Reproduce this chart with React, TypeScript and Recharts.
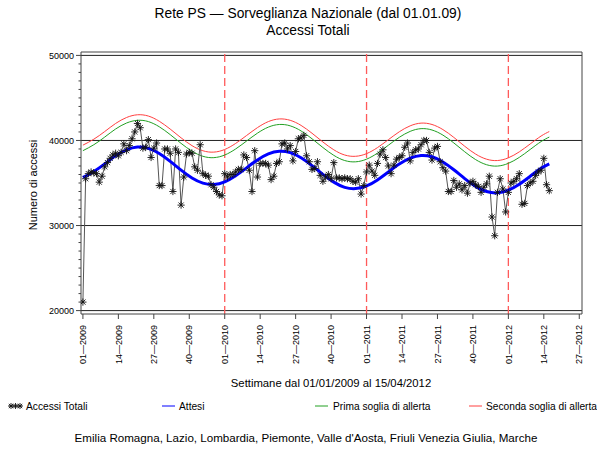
import React from 'react';
import { ComposedChart, Line, XAxis, YAxis, ReferenceLine } from 'recharts';

// weekly totals, week index 0 = 01-2009
const totalAccess = [
  21000, 35500, 36100, 36300, 36200, 36100, 35100, 35800, 36900, 37400,
  37900, 38300, 38500, 38200, 38600, 39600, 38800, 39400, 40200, 41000,
  42000, 41500, 39100, 39200, 40100, 38000, 39100, 39700, 34700, 34700,
  39000, 39000, 38500, 34000, 39000, 38600, 32400, 35700, 38400, 38600,
  38500, 36900, 36500, 39500, 36100, 35900, 35800, 34800, 34500, 34000,
  33600, 33500, 36100, 35700, 36000, 36000, 36300, 36600, 36600, 38300,
  38000, 36500, 34000, 38800, 35700, 37300, 37300, 37300, 37100, 35400,
  35800, 37300, 37500, 39600, 39700, 39000, 39400, 37600, 38700, 40200,
  40300, 40600, 38200, 37500, 36600, 36700, 37500, 35900, 35200, 35700,
  36000, 35500, 37400, 35600, 35600, 35500, 35600, 35500, 35500, 35200,
  35100, 35500, 33700, 34700, 36300, 37100, 36400, 35900, 37300, 38400,
  38900, 38000, 37000, 36100, 37100, 37800, 38000, 38200, 39200, 39700,
  37600, 38600, 38900, 39000, 39500, 40000, 40000, 38600, 37700, 39100,
  39300, 37500, 36800, 36400, 34000, 34000, 35300, 34500, 34900, 34200,
  34700, 33800, 35000, 35200, 34800, 34600, 33900, 34500, 34900, 35800,
  31000, 28800, 33900, 35500, 34300, 31600, 33900, 35000, 35200, 35500,
  36100, 32500, 32600, 34700, 35000, 35200, 35900, 36300, 36500, 37900,
  34800, 34100,
];

// smooth curves, sampled every 4 weeks
const curveWeeks = [
  0, 4, 8, 12, 16, 20, 24, 28, 32, 36, 40, 44, 48, 52, 56, 60, 64, 68, 72, 76, 80, 84,
  88, 92, 96, 100, 104, 108, 112, 116, 120, 124, 128, 132, 136, 140, 144, 148, 152, 156,
  160, 164, 168, 171,
];
const expected = [
  35650, 36350, 37250, 38200, 38900, 39220, 39070, 38460, 37540, 36510, 35590, 34990,
  34830, 35140, 35850, 36780, 37710, 38420, 38730, 38570, 37970, 37050, 36020, 35100,
  34490, 34340, 34650, 35360, 36290, 37220, 37920, 38240, 38080, 37480, 36560, 35520,
  34600, 34000, 33840, 34160, 34860, 35790, 36720, 37250,
];
const firstAlert = [
  38800, 39500, 40400, 41350, 42050, 42370, 42220, 41610, 40690, 39660, 38740, 38140,
  37980, 38290, 39000, 39930, 40860, 41570, 41880, 41720, 41120, 40200, 39170, 38250,
  37640, 37490, 37800, 38510, 39440, 40370, 41070, 41390, 41230, 40630, 39710, 38670,
  37750, 37150, 36990, 37310, 38010, 38940, 39870, 40400,
];
const secondAlert = [
  39450, 40150, 41050, 42000, 42700, 43020, 42870, 42260, 41340, 40310, 39390, 38790,
  38630, 38940, 39650, 40580, 41510, 42220, 42530, 42370, 41770, 40850, 39820, 38900,
  38290, 38140, 38450, 39160, 40090, 41020, 41720, 42040, 41880, 41280, 40360, 39320,
  38400, 37800, 37640, 37960, 38660, 39590, 40520, 41050,
];

const xTicks = [0, 13, 26, 39, 52, 65, 78, 91, 104, 117, 130, 143, 156, 169, 182];
const xTickLabels = [
  '01—2009', '14—2009', '27—2009', '40—2009',
  '01—2010', '14—2010', '27—2010', '40—2010',
  '01—2011', '14—2011', '27—2011', '40—2011',
  '01—2012', '14—2012', '27—2012',
];
const yearStarts = [52, 104, 156];
const yLines = [20000, 30000, 40000, 50000];

const X_DOMAIN: [number, number] = [-0.7, 183];
const Y_DOMAIN: [number, number] = [19600, 50400];
const yTicks = Array.from({ length: 31 }, (_, k) => 20000 + k * 1000);

const FONT = '"Liberation Sans", Arial, sans-serif';
const AXIS = '#444';

const totalData = totalAccess.map((v, i) => ({ i, v }));
const expectedData = curveWeeks.map((i, k) => ({ i, v: expected[k] }));
const firstData = curveWeeks.map((i, k) => ({ i, v: firstAlert[k] }));
const secondData = curveWeeks.map((i, k) => ({ i, v: secondAlert[k] }));

function Star({ cx, cy, r = 3.6 }: { cx: number; cy: number; r?: number }) {
  const d = r * 0.72;
  return (
    <g stroke="#111" strokeWidth={0.9}>
      <line x1={cx} y1={cy - r} x2={cx} y2={cy + r} />
      <line x1={cx - r} y1={cy} x2={cx + r} y2={cy} />
      <line x1={cx - d} y1={cy - d} x2={cx + d} y2={cy + d} />
      <line x1={cx - d} y1={cy + d} x2={cx + d} y2={cy - d} />
    </g>
  );
}

function YTick({ x, y, payload }: any) {
  const major = payload.value % 10000 === 0;
  return (
    <g>
      <line x1={x - (major ? 5 : 2.5)} x2={x} y1={y} y2={y} stroke={AXIS} />
      {major && (
        <text x={x - 7} y={y + 3.2} textAnchor="end" fontSize={9} fontFamily={FONT} fill="#000">
          {payload.value}
        </text>
      )}
    </g>
  );
}

function XTick({ x, y, payload }: any) {
  const label = xTickLabels[xTicks.indexOf(payload.value)];
  return (
    <g>
      <line x1={x} x2={x} y1={y} y2={y + 5} stroke={AXIS} />
      <text
        transform={`translate(${x + 3.2},${y + 11}) rotate(-90)`}
        textAnchor="end"
        fontSize={9}
        fontFamily={FONT}
        fill="#000"
      >
        {label}
      </text>
    </g>
  );
}

function Overlay() {
  return (
    <svg
      width={597}
      height={450}
      style={{ position: 'absolute', left: 0, top: 0, pointerEvents: 'none' }}
      fontFamily={FONT}
    >
      <text x={308} y={17.5} textAnchor="middle" fontSize={13.8}>
        Rete PS — Sorveglianza Nazionale (dal 01.01.09)
      </text>
      <text x={308} y={34.5} textAnchor="middle" fontSize={13.8}>
        Accessi Totali
      </text>
      <text transform="translate(36.5,185) rotate(-90)" textAnchor="middle" fontSize={11}>
        Numero di accessi
      </text>
      <text x={331} y={387} textAnchor="middle" fontSize={11.3}>
        Settimane dal 01/01/2009 al 15/04/2012
      </text>

      <line x1={9} x2={22} y1={406} y2={406} stroke="#666" />
      <Star cx={11} cy={406} r={3} />
      <Star cx={15.5} cy={406} r={3} />
      <Star cx={20} cy={406} r={3} />
      <text x={26} y={409.5} fontSize={10.2}>Accessi Totali</text>

      <line x1={162} x2={175} y1={406} y2={406} stroke="#0000ff" />
      <text x={179} y={409.5} fontSize={10.2}>Attesi</text>

      <line x1={315} x2={328} y1={406} y2={406} stroke="#22a022" />
      <text x={333} y={409.5} fontSize={10.2}>Prima soglia di allerta</text>

      <line x1={469} x2={482} y1={406} y2={406} stroke="#ff4040" />
      <text x={486} y={409.5} fontSize={10.2}>Seconda soglia di allerta</text>

      <text x={306} y={442} textAnchor="middle" fontSize={11.6}>
        Emilia Romagna, Lazio, Lombardia, Piemonte, Valle d'Aosta, Friuli Venezia Giulia, Marche
      </text>
    </svg>
  );
}

export default function App() {
  return (
    <div style={{ position: 'absolute', left: 0, top: 0, width: 597, height: 450, background: '#fff' }}>
      <ComposedChart width={597} height={450} margin={{ top: 52, right: 15, bottom: 76, left: 0 }}>
        <XAxis
          dataKey="i"
          type="number"
          domain={X_DOMAIN}
          ticks={xTicks}
          interval={0}
          allowDataOverflow
          height={60}
          tickSize={0}
          tickMargin={0}
          tickLine={false}
          tick={<XTick />}
          axisLine={{ stroke: AXIS }}
        />
        <YAxis
          type="number"
          domain={Y_DOMAIN}
          ticks={yTicks}
          interval={0}
          allowDataOverflow
          width={81}
          tickSize={0}
          tickMargin={0}
          tickLine={false}
          tick={<YTick />}
          axisLine={{ stroke: AXIS }}
        />
        {yLines.map((v) => (
          <ReferenceLine key={v} y={v} stroke="#222" strokeWidth={1} />
        ))}
        <ReferenceLine y={Y_DOMAIN[1]} stroke={AXIS} />
        <ReferenceLine x={X_DOMAIN[1]} stroke={AXIS} />
        {yearStarts.map((w) => (
          <ReferenceLine key={w} x={w} stroke="#ff5a5a" strokeWidth={1.3} strokeDasharray="8 4" />
        ))}
        <Line
          data={secondData}
          dataKey="v"
          type="natural"
          stroke="#ff4040"
          strokeWidth={1}
          dot={false}
          isAnimationActive={false}
        />
        <Line
          data={firstData}
          dataKey="v"
          type="natural"
          stroke="#22a022"
          strokeWidth={1}
          dot={false}
          isAnimationActive={false}
        />
        <Line
          data={totalData}
          dataKey="v"
          type="linear"
          stroke="#555"
          strokeWidth={1}
          dot={(p: any) => <Star key={`s${p.index}`} cx={p.cx} cy={p.cy} />}
          isAnimationActive={false}
        />
        <Line
          data={expectedData}
          dataKey="v"
          type="natural"
          stroke="#0000ff"
          strokeWidth={3}
          dot={false}
          isAnimationActive={false}
        />
      </ComposedChart>
      <Overlay />
    </div>
  );
}
